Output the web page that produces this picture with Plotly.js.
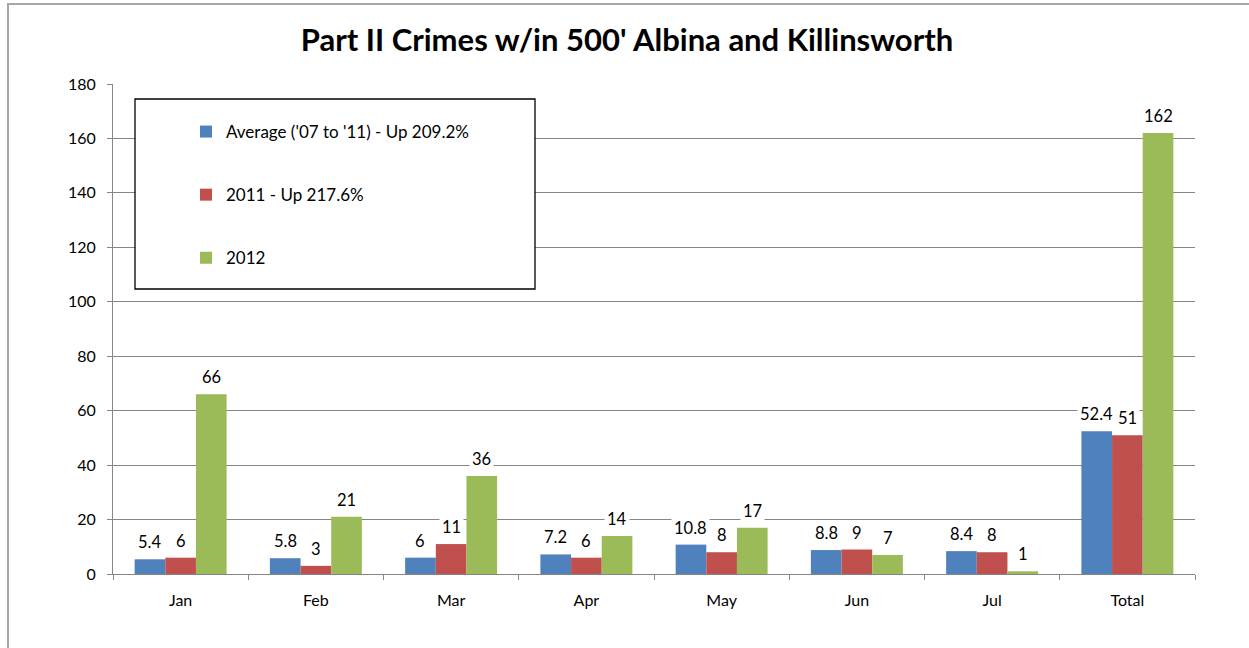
<!DOCTYPE html>
<html>
<head>
<meta charset="utf-8">
<script src="https://cdn.plot.ly/plotly-3.0.1.min.js"></script>
<style>
  html, body { margin: 0; padding: 0; overflow: hidden; background: #fff; }
  #chart { width: 1249px; height: 648px; }
  #frame { position: absolute; left: 7px; top: 3px; width: 1400px; height: 800px;
           border-left: 2px solid #a6a6a6; border-top: 2px solid #a6a6a6; pointer-events: none; }
</style>
</head>
<body>
<div id="chart"></div>
<div id="frame"></div>
<script>
const categories = ["Jan", "Feb", "Mar", "Apr", "May", "Jun", "Jul", "Total"];
const seriesNames = ["Average ('07 to '11) - Up 209.2%", "2011 - Up 217.6%", "2012"];
const avgValues = [5.4, 5.8, 6, 7.2, 10.8, 8.8, 8.4, 52.4];
const y2011Values = [6, 3, 11, 6, 8, 9, 8, 51];
const y2012Values = [66, 21, 36, 14, 17, 7, 1, 162];
const seriesColors = ["#4F81BD", "#C0504D", "#9BBB59"];
const yTickVals = [0, 20, 40, 60, 80, 100, 120, 140, 160, 180];

const allSeries = [avgValues, y2011Values, y2012Values];
const W = 1249, H = 648;
const margin = {l: 113, r: 54, t: 84, b: 74};
const bargap = 0.32;
const plotW = W - margin.l - margin.r;
const plotH = H - margin.t - margin.b;
const catW = plotW / categories.length;
const barW = catW * (1 - bargap) / allSeries.length;
const font = "Lato, 'Open Sans', sans-serif";

const traces = allSeries.map((vals, s) => ({
  type: "bar",
  name: seriesNames[s],
  x: categories,
  y: vals,
  marker: {color: seriesColors[s]},
  legendgroup: "g" + s,
  hoverinfo: "x+y"
}));

const annotations = [];
allSeries.forEach((vals, s) => {
  vals.forEach((v, i) => {
    annotations.push({
      x: categories[i], y: v, xref: "x", yref: "y",
      text: String(v), showarrow: false,
      xanchor: "center", yanchor: "bottom",
      xshift: (s - 1) * barW, yshift: 4,
      bgcolor: "#ffffff", borderpad: 2,
      font: {family: font, size: 16.5, color: "#000"}
    });
  });
});

const layout = {
  width: W, height: H,
  margin: margin,
  paper_bgcolor: "#fff", plot_bgcolor: "#fff",
  font: {family: font, size: 16, color: "#000"},
  title: {
    text: "<b>Part II Crimes w/in 500' Albina and Killinsworth</b>",
    font: {family: font, size: 31, color: "#000"},
    x: 627 / W, xref: "container", xanchor: "center",
    y: 1 - 40 / H, yref: "container", yanchor: "middle"
  },
  barmode: "group",
  bargap: bargap,
  bargroupgap: 0,
  xaxis: {
    type: "category",
    showline: true, linecolor: "#868686", linewidth: 1,
    ticks: "outside", ticklen: 5, tickcolor: "#868686",
    tickson: "boundaries",
    tickfont: {family: font, size: 16, color: "#000"},
    ticklabelstandoff: 12,
    showgrid: false, zeroline: false
  },
  yaxis: {
    range: [0, 180],
    tickvals: yTickVals,
    showline: true, linecolor: "#868686", linewidth: 1,
    ticks: "outside", ticklen: 5, tickcolor: "#868686",
    showgrid: true, gridcolor: "#868686", gridwidth: 1,
    zeroline: false,
    tickfont: {family: font, size: 16, color: "#000"},
    ticklabelstandoff: 8
  },
  showlegend: true,
  legend: {
    x: (186 - margin.l) / plotW, xref: "paper", xanchor: "left",
    y: (H - margin.b - 114) / plotH, yanchor: "top",
    bgcolor: "rgba(0,0,0,0)", borderwidth: 0,
    tracegroupgap: 38,
    traceorder: "grouped",
    font: {family: font, size: 17, color: "#000"}
  },
  shapes: [{
    type: "rect", xref: "paper", yref: "paper",
    x0: (135 - margin.l) / plotW, x1: (535 - margin.l) / plotW,
    y0: (H - margin.b - 289) / plotH,
    y1: (H - margin.b - 99) / plotH,
    line: {color: "#000", width: 1.3},
    fillcolor: "#fff", layer: "above"
  }],
  annotations: annotations
};

Plotly.newPlot("chart", traces, layout, {displayModeBar: false, staticPlot: true});
</script>
</body>
</html>
